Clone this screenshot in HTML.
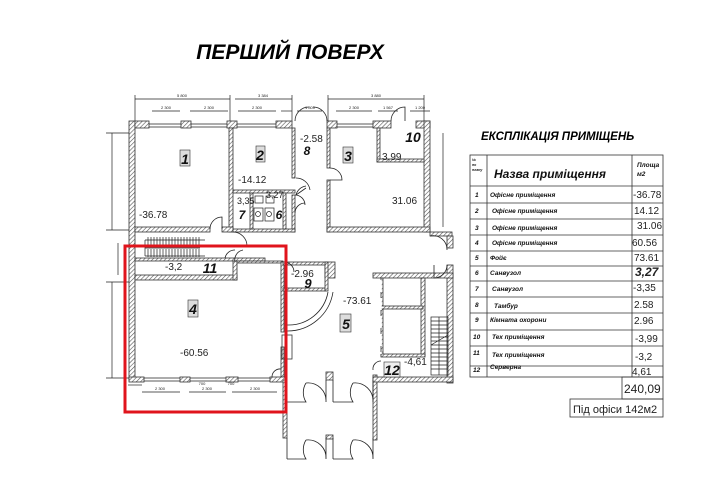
<!DOCTYPE html>
<html><head><meta charset="utf-8"><style>
html,body{margin:0;padding:0;background:#fff;width:701px;height:500px;overflow:hidden}
svg{display:block}
text{font-family:"Liberation Sans",sans-serif}
</style></head><body>
<svg width="701" height="500" viewBox="0 0 701 500" xmlns="http://www.w3.org/2000/svg">
<defs>
<pattern id="h" width="3" height="3" patternUnits="userSpaceOnUse" patternTransform="rotate(45)">
<rect width="3" height="3" fill="#fff"/><line x1="0" y1="0" x2="0" y2="3" stroke="#555" stroke-width="1.2"/>
</pattern>
</defs>
<text x="290" y="59" font-size="21" font-weight="bold" font-style="italic" text-anchor="middle">ПЕРШИЙ ПОВЕРХ</text>

<g fill="none" stroke="#222" stroke-width="0.7">
<line x1="135" y1="99" x2="230" y2="99"/><line x1="235" y1="99" x2="292" y2="99"/><line x1="328" y1="99" x2="424" y2="99"/>
<line x1="152" y1="111" x2="180" y2="111"/><line x1="190" y1="111" x2="228" y2="111"/><line x1="238" y1="111" x2="276" y2="111"/><line x1="281" y1="111" x2="292" y2="111"/>
<line x1="336" y1="111" x2="372" y2="111"/><line x1="378" y1="111" x2="398" y2="111"/><line x1="410" y1="111" x2="430" y2="111"/><line x1="297" y1="111" x2="322" y2="111"/>
<line x1="135" y1="95" x2="135" y2="122"/><line x1="230" y1="95" x2="230" y2="122"/><line x1="292" y1="95" x2="292" y2="122"/><line x1="328" y1="95" x2="328" y2="122"/><line x1="424" y1="95" x2="424" y2="122"/>
<line x1="112" y1="133" x2="112" y2="230"/><line x1="106" y1="133" x2="130" y2="133"/><line x1="106" y1="230" x2="130" y2="230"/>
<line x1="118" y1="243" x2="118" y2="275"/>
<line x1="112" y1="282" x2="112" y2="378"/><line x1="106" y1="282" x2="130" y2="282"/><line x1="106" y1="378" x2="130" y2="378"/>
<line x1="443" y1="133" x2="443" y2="227"/>
<line x1="142" y1="392" x2="180" y2="392"/><line x1="189" y1="392" x2="226" y2="392"/><line x1="232" y1="392" x2="277" y2="392"/>
<line x1="128" y1="385" x2="142" y2="385"/>
</g>
<g font-size="4" fill="#222" text-anchor="middle">
<text x="182" y="97">5 800</text><text x="263" y="97">3 384</text><text x="376" y="97">3 880</text>
<text x="166" y="109">2 300</text><text x="209" y="109">2 300</text><text x="257" y="109">2 300</text><text x="354" y="109">2 300</text><text x="388" y="109">1 567</text><text x="310" y="109">1 800</text><text x="420" y="109">1 200</text>
<text x="160" y="390">2 300</text><text x="207" y="390">2 300</text><text x="255" y="390">2 300</text><text x="202" y="385">700</text><text x="231" y="385">700</text>
</g>

<g fill="url(#h)" stroke="#333" stroke-width="0.8">
<rect x="129" y="121" width="6" height="259"/>
<rect x="135" y="121" width="14" height="7"/><rect x="181" y="121" width="10" height="7"/><rect x="227" y="121" width="10" height="7"/><rect x="276" y="121" width="16" height="7"/>
<rect x="327" y="121" width="10" height="7"/><rect x="373" y="121" width="18" height="7"/><rect x="416" y="121" width="14" height="7"/>
<rect x="229" y="128" width="4" height="104"/>
<rect x="292" y="128" width="3" height="50"/><rect x="292" y="195" width="3" height="37"/>
<rect x="327" y="128" width="3" height="40"/><rect x="327" y="180" width="3" height="52"/>
<rect x="424" y="121" width="6" height="111"/>
<rect x="377" y="128" width="3" height="34"/><rect x="377" y="159" width="47" height="3"/>
<rect x="135" y="227" width="75" height="5"/><rect x="222" y="227" width="11" height="5"/>
<rect x="233" y="229" width="62" height="3"/>
<rect x="233" y="190" width="62" height="3"/><rect x="250" y="193" width="3" height="36"/><rect x="283" y="193" width="3" height="36"/>
<rect x="327" y="227" width="103" height="5"/><rect x="430" y="232" width="22" height="4"/>
<rect x="447" y="236" width="6" height="12"/><rect x="447" y="265" width="6" height="118"/>
<rect x="135" y="258" width="130" height="3"/>
<rect x="135" y="275" width="102" height="5"/><rect x="233" y="261" width="4" height="19"/>
<rect x="237" y="261" width="46" height="2"/>
<rect x="281" y="262" width="3" height="70"/><rect x="281" y="347" width="3" height="30"/>
<rect x="129" y="377" width="15" height="5"/><rect x="180" y="377" width="10" height="5"/><rect x="226" y="377" width="12" height="5"/><rect x="270" y="377" width="17" height="5"/>
<rect x="283" y="380" width="4" height="58"/>
<rect x="326" y="372" width="7" height="8"/><rect x="326" y="435" width="7" height="4"/>
<rect x="373" y="375" width="4" height="65"/>
<rect x="373" y="273" width="80" height="5"/>
<rect x="381" y="278" width="2" height="78"/><rect x="421" y="278" width="4" height="78"/><rect x="381" y="306" width="42" height="3"/><rect x="381" y="354" width="44" height="3"/>
<rect x="373" y="377" width="80" height="5"/>
<rect x="325" y="262" width="10" height="16"/>
<rect x="283" y="288" width="42" height="3"/><rect x="325" y="262" width="3" height="29"/><rect x="283" y="262" width="42" height="3"/>
</g>
<rect x="282" y="335" width="10" height="24" fill="none" stroke="#333" stroke-width="0.8"/>
<g fill="none" stroke="#222" stroke-width="0.8">
<line x1="149" y1="124" x2="181" y2="124"/><line x1="149" y1="127" x2="181" y2="127"/>
<line x1="191" y1="124" x2="227" y2="124"/><line x1="191" y1="127" x2="227" y2="127"/>
<line x1="237" y1="124" x2="276" y2="124"/><line x1="237" y1="127" x2="276" y2="127"/>
<line x1="337" y1="124" x2="373" y2="124"/><line x1="337" y1="127" x2="373" y2="127"/>
<line x1="144" y1="378" x2="180" y2="378"/><line x1="144" y1="381" x2="180" y2="381"/>
<line x1="190" y1="378" x2="226" y2="378"/><line x1="190" y1="381" x2="226" y2="381"/>
<line x1="238" y1="378" x2="270" y2="378"/><line x1="238" y1="381" x2="270" y2="381"/>
<path d="M295 121 A14 14 0 0 1 309 107 M327 121 A14 14 0 0 0 313 107"/>
<path d="M391 121 A14 14 0 0 1 405 107 L405 121"/>
<path d="M296 195 L306 188 M296 195 A12 12 0 0 1 306 186"/>
<path d="M296 178 A14 14 0 0 1 310 190"/>
<path d="M330 168 A12 12 0 0 1 342 180 L330 180"/>
<path d="M210 229 A12 12 0 0 1 222 217 L222 229"/>
<path d="M295 195 A10 10 0 0 1 305 205 M295 213 A10 10 0 0 1 305 203"/>
<path d="M233 232 A14 14 0 0 1 247 246"/>
<path d="M225 258 A10 10 0 0 1 235 250 M235 262 A10 10 0 0 1 243 250"/>
<path d="M284 262 A10 10 0 0 1 294 272"/>
<path d="M287 331 A46 46 0 0 0 333 292 M287 325 A40 40 0 0 0 328 292"/>
<path d="M272 377 A8 8 0 0 1 281 369"/>
<path d="M430 236 A14 14 0 0 1 447 250 M447 265 A13 13 0 0 1 434 278 L434 265"/>
<path d="M373 370 A8 8 0 0 1 381 361"/>
<path d="M287 402 L287 380 M287 402 L306 402 A18 18 0 0 1 306 383 M306 383 A18 18 0 0 1 326 402 L326 380"/>
<path d="M333 402 L333 380 M333 402 L353 402 A18 18 0 0 1 353 383 M353 383 A18 18 0 0 1 373 402 L373 380"/>
<path d="M287 459 L287 438 M287 459 L306 459 A18 18 0 0 1 306 440 M306 440 A18 18 0 0 1 326 459 L326 438"/>
<path d="M333 459 L333 438 M333 459 L353 459 A18 18 0 0 1 353 440 M353 440 A18 18 0 0 1 373 459 L373 438"/>
<line x1="381" y1="280" x2="381" y2="354" stroke-dasharray="12 6" stroke="#fff" stroke-width="1.5"/>
</g>
<g stroke="#222" stroke-width="0.7" fill="none">
<path d="M145 240 h60 M145 248 h55 M145 256 h60 M145 240 v16"/>
<path d="M148 237 v9 M151 237 v9 M154 237 v9 M157 237 v9 M160 237 v9 M163 237 v9 M166 237 v9 M169 237 v9 M172 237 v9 M175 237 v9 M178 237 v9 M181 237 v9 M184 237 v9 M187 237 v9 M190 237 v9 M193 237 v9 M196 237 v9 M199 237 v9"/>
<path d="M148 249 v8 M151 249 v8 M154 249 v8 M157 249 v8 M160 249 v8 M163 249 v8 M166 249 v8 M169 249 v8 M172 249 v8 M175 249 v8 M178 249 v8 M181 249 v8 M184 249 v8 M187 249 v8 M190 249 v8 M193 249 v8 M196 249 v8 M199 249 v8"/>
<rect x="431" y="317" width="17" height="58"/>
<path d="M431 321h17 M431 325h17 M431 329h17 M431 333h17 M431 337h17 M431 341h17 M431 345h17 M431 349h17 M431 353h17 M431 357h17 M431 361h17 M431 365h17 M431 369h17 M439 317 v58 M431 345 L448 335"/>
<rect x="255" y="196" width="8" height="7"/><rect x="266" y="196" width="8" height="7"/><rect x="254" y="208" width="9" height="13"/><rect x="265" y="208" width="9" height="13"/>
<circle cx="258" cy="214" r="2.5"/><circle cx="269" cy="214" r="2.5"/>
</g>
<g font-style="italic" font-weight="bold" font-size="14" text-anchor="middle" fill="#111">
<rect x="180" y="150" width="10" height="16" fill="#ddd" stroke="#333" stroke-width="0.6"/><text x="185" y="164">1</text>
<rect x="256" y="146" width="9" height="16" fill="#ddd" stroke="#333" stroke-width="0.6"/><text x="260" y="160">2</text>
<rect x="343" y="147" width="10" height="16" fill="#ddd" stroke="#333" stroke-width="0.6"/><text x="348" y="161">3</text>
<rect x="188" y="300" width="10" height="17" fill="#ddd" stroke="#333" stroke-width="0.6"/><text x="193" y="314">4</text>
<rect x="340" y="314" width="11" height="18" fill="#ddd" stroke="#333" stroke-width="0.6"/><text x="346" y="329">5</text>
<text x="279" y="219" font-size="12">6</text><text x="242" y="219" font-size="12">7</text><text x="307" y="155" font-size="12">8</text>
<text x="308" y="288" font-size="13">9</text><text x="413" y="142" font-size="14">10</text><text x="210" y="273" font-size="14">11</text>
<rect x="384" y="362" width="16" height="15" fill="#eee" stroke="#333" stroke-width="0.6"/><text x="392" y="375">12</text>
</g>
<g font-size="10" fill="#222">
<text x="139" y="218">-36.78</text><text x="238" y="183">-14.12</text><text x="382" y="160">3,99</text><text x="392" y="204">31.06</text>
<text x="300" y="142">-2.58</text><text x="165" y="270">-3,2</text><text x="180" y="356">-60.56</text><text x="291" y="277">-2.96</text><text x="343" y="304">-73.61</text><text x="404" y="365">-4,61</text>
<text x="237" y="204" font-size="9">3,35</text><text x="266" y="198" font-size="9">3,27</text>
</g>

<rect x="125" y="246" width="161" height="166" fill="none" stroke="#e0141c" stroke-width="3"/>

<text x="481" y="140" font-size="11.5" font-weight="bold" font-style="italic">ЕКСПЛІКАЦІЯ ПРИМІЩЕНЬ</text>
<g stroke="#333" stroke-width="0.8" fill="none">
<rect x="470" y="155" width="193" height="222"/>
<line x1="487" y1="155" x2="487" y2="377"/><line x1="632" y1="155" x2="632" y2="377"/>
<path d="M470 186h193 M470 203h193 M470 219h193 M470 235h193 M470 251h193 M470 266h193 M470 281h193 M470 297h193 M470 313h193 M470 330h193 M470 346h193 M470 366h193"/>
<rect x="622" y="377" width="41" height="22"/><rect x="570" y="399" width="93" height="18"/>
</g>
<g font-style="italic" font-weight="bold" fill="#111">
<text x="472" y="161" font-size="3.5">№</text><text x="472" y="166" font-size="3.5">по</text><text x="472" y="171" font-size="3.5">плану</text>
<text x="494" y="178" font-size="12">Назва приміщення</text>
<text x="637" y="167" font-size="6.5">Площа</text><text x="637" y="176" font-size="6.5">м2</text>
<g font-size="6.5">
<text x="475" y="197">1</text><text x="490" y="197">Офісне приміщення</text>
<text x="475" y="213">2</text><text x="492" y="213">Офісне приміщення</text>
<text x="475" y="230">3</text><text x="492" y="230">Офісне приміщення</text>
<text x="475" y="245">4</text><text x="492" y="245">Офісне приміщення</text>
<text x="475" y="260">5</text><text x="490" y="260">Фойє</text>
<text x="475" y="275">6</text><text x="490" y="275">Санвузол</text>
<text x="475" y="291">7</text><text x="492" y="291">Санвузол</text>
<text x="475" y="307">8</text><text x="494" y="308">Тамбур</text>
<text x="475" y="322">9</text><text x="490" y="322">Кімната охорони</text>
<text x="473" y="339">10</text><text x="492" y="339">Тех приміщення</text>
<text x="473" y="355">11</text><text x="492" y="357">Тех приміщення</text>
<text x="473" y="372">12</text><text x="490" y="369">Серверна</text>
</g>
</g>
<g font-size="10" fill="#222">
<text x="633" y="198">-36.78</text><text x="634" y="214">14.12</text><text x="637" y="229">31.06</text><text x="632" y="246">60.56</text>
<text x="634" y="261">73.61</text><text x="635" y="276" font-weight="bold" font-style="italic" font-size="12">3,27</text>
<text x="633" y="291">-3,35</text><text x="634" y="308">2.58</text><text x="634" y="324">2.96</text><text x="635" y="342">-3,99</text><text x="635" y="360">-3,2</text><text x="632" y="375">4,61</text>
<text x="624" y="393" font-size="12">240,09</text><text x="573" y="413" font-size="11">Під офіси 142м2</text>
</g>
</svg>
</body></html>
